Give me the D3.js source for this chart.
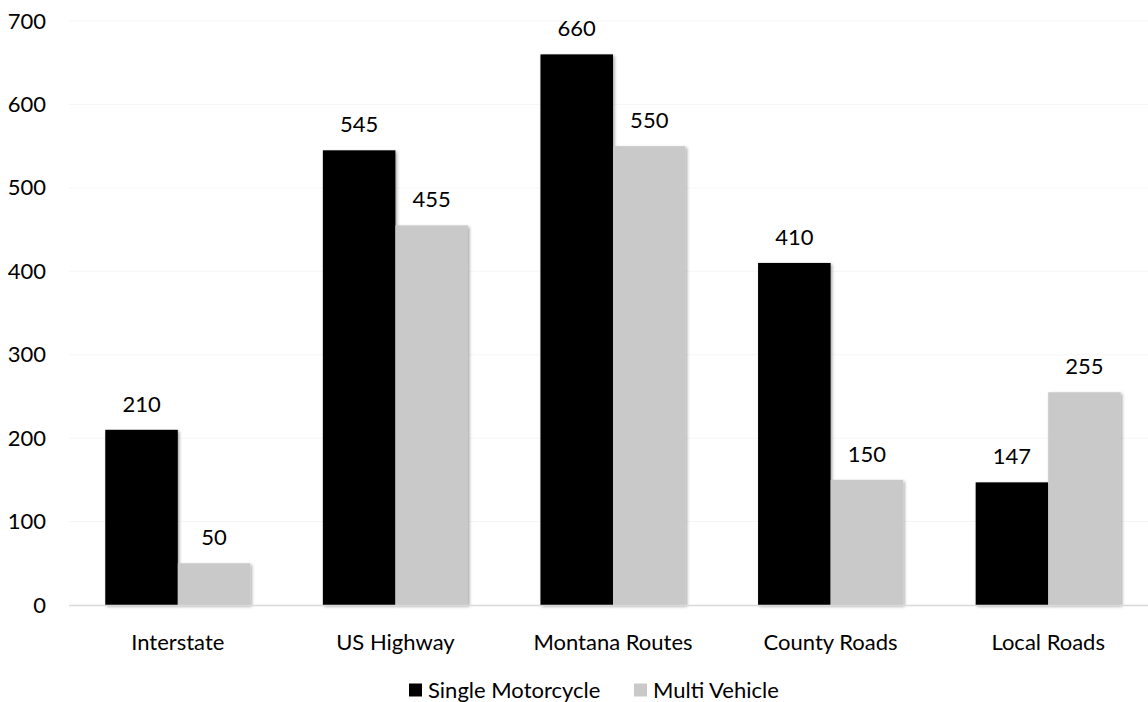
<!DOCTYPE html>
<html>
<head>
<meta charset="utf-8">
<script src="https://cdn.jsdelivr.net/npm/d3@7"></script>
<style>
  body { margin: 0; background: #fff; }
  text { font-family: Lato, 'Open Sans', sans-serif; fill: #000; }
</style>
</head>
<body>
<div id="chart"></div>
<script>
const categories = ['Interstate', 'US Highway', 'Montana Routes', 'County Roads', 'Local Roads'];
const seriesNames = ['Single Motorcycle', 'Multi Vehicle'];
const singleMotorcycle = [210, 545, 660, 410, 147];
const multiVehicle = [50, 455, 550, 150, 255];
const yTicks = [0, 100, 200, 300, 400, 500, 600, 700];

const colors = ['#000000', '#c9c9c9'];
const width = 1148;
const height = 702;
const fontSize = 22;

let svg = d3.select('#chart').append('svg')
  .attr('width', width)
  .attr('height', height)

let defs = svg.append('defs')
let filter = defs.append('filter')
  .attr('id', 'shadow')
  .attr('x', '-10%').attr('y', '-10%')
  .attr('width', '130%').attr('height', '130%')
filter.append('feDropShadow')
  .attr('dx', 1.5)
  .attr('dy', 1.5)
  .attr('stdDeviation', 1.5)
  .attr('flood-color', '#000')
  .attr('flood-opacity', 0.35)

let x = d3.scaleBand()
  .domain(categories)
  .range([69, 1157])
  .paddingInner(0)
  .paddingOuter(0)

let x1 = d3.scaleBand()
  .domain(seriesNames)
  .range([0, x.bandwidth()])
  .paddingInner(0)
  .paddingOuter(0.5)

let y = d3.scaleLinear()
  .domain([0, 700])
  .range([605, 21])

// gridlines
svg.append('g')
  .selectAll('line')
  .data(yTicks.filter(d => d > 0))
  .enter().append('line')
    .attr('x1', 69)
    .attr('x2', width)
    .attr('y1', d => y(d))
    .attr('y2', d => y(d))
    .attr('stroke', '#f6f6f6')
    .attr('stroke-width', 1)

// y labels
let yAxis = svg.append('g')
  .attr('transform', 'translate(46,0)')
  .call(d3.axisLeft(y).tickValues(yTicks).tickSize(0).tickPadding(0))
yAxis.select('.domain').remove()
yAxis.selectAll('text')
  .style('font-size', fontSize + 'px')
  .style('font-family', null)
  .attr('fill', '#000')

const rows = categories.map((c, i) => ({
  cat: c,
  vals: [
    {name: seriesNames[0], v: singleMotorcycle[i]},
    {name: seriesNames[1], v: multiVehicle[i]}
  ]
}))

let groups = svg.append('g').selectAll('g')
  .data(rows)
  .enter().append('g')
    .attr('transform', d => `translate(${x(d.cat)},0)`)

groups.selectAll('rect')
  .data(d => d.vals)
  .enter().append('rect')
    .attr('x', d => x1(d.name))
    .attr('y', d => y(d.v))
    .attr('width', x1.bandwidth())
    .attr('height', d => y(0) - y(d.v))
    .attr('fill', (d, i) => colors[i])
    .attr('filter', 'url(#shadow)')

groups.selectAll('text.val')
  .data(d => d.vals)
  .enter().append('text')
    .classed('val', true)
    .attr('x', d => x1(d.name) + x1.bandwidth() / 2)
    .attr('y', d => y(d.v) - 18)
    .attr('text-anchor', 'middle')
    .style('font-size', fontSize + 'px')
    .text(d => d.v)

// x axis line
svg.append('line')
  .attr('x1', 69)
  .attr('x2', width)
  .attr('y1', y(0) + 0.5)
  .attr('y2', y(0) + 0.5)
  .attr('stroke', '#d9d9d9')
  .attr('stroke-width', 1.5)

// category labels
svg.append('g').selectAll('text')
  .data(categories)
  .enter().append('text')
    .attr('x', d => x(d) + x.bandwidth() / 2)
    .attr('y', 642)
    .attr('dy', '0.35em')
    .attr('text-anchor', 'middle')
    .style('font-size', fontSize + 'px')
    .text(d => d)

// legend
const legendX = [409, 634];
let legend = svg.append('g').selectAll('g')
  .data(seriesNames)
  .enter().append('g')
    .attr('transform', (d, i) => `translate(${legendX[i]},690)`)
legend.append('rect')
  .attr('x', 0)
  .attr('y', -6.5)
  .attr('width', 13)
  .attr('height', 13)
  .attr('fill', (d, i) => colors[i])
legend.append('text')
  .attr('x', 19)
  .attr('y', 0)
  .attr('dy', '0.35em')
  .style('font-size', fontSize + 'px')
  .text(d => d)
</script>
</body>
</html>
